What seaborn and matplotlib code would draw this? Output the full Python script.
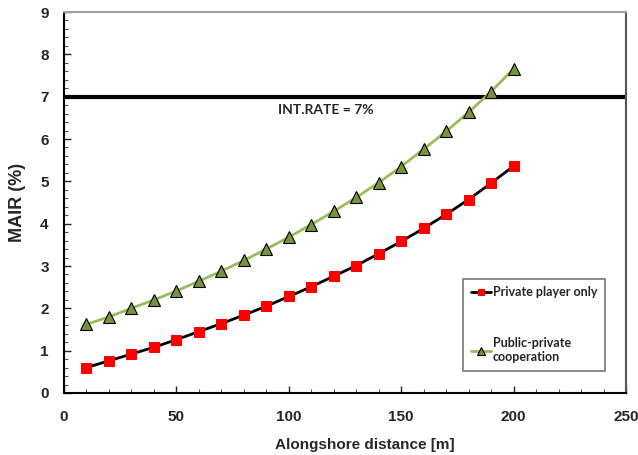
import matplotlib
matplotlib.use("Agg")
import matplotlib.pyplot as plt
import seaborn as sns
import pandas as pd
from matplotlib.ticker import MultipleLocator

distance = [10, 20, 30, 40, 50, 60, 70, 80, 90, 100, 110, 120, 130, 140, 150, 160, 170, 180, 190, 200]
private_only = [0.60, 0.76, 0.92, 1.08, 1.26, 1.45, 1.64, 1.84, 2.05, 2.28, 2.51, 2.76, 3.01, 3.29, 3.58, 3.89, 4.22, 4.57, 4.96, 5.36]
public_private = [1.62, 1.80, 2.00, 2.20, 2.41, 2.64, 2.88, 3.13, 3.40, 3.68, 3.98, 4.29, 4.62, 4.97, 5.35, 5.76, 6.18, 6.63, 7.12, 7.66]
int_rate = 7
series_names = ["Private player only", "Public-private\ncooperation"]

sns.set_style("white")
plt.rcParams['font.family'] = ['Liberation Sans', 'DejaVu Sans']

fig = plt.figure(figsize=(6.38, 4.55), dpi=100)
ax = fig.add_axes([64/638, 1-393/455, (626-64)/638, (393-12)/455])

df = pd.DataFrame({"x": distance * 2,
                   "y": private_only + public_private,
                   "s": [series_names[0]] * len(distance) + [series_names[1]] * len(distance)})

sns.lineplot(data=df[df.s == series_names[0]], x="x", y="y", ax=ax, color="black", lw=2,
             marker="s", markersize=6.5, markerfacecolor="#ff0000", markeredgecolor="#ff0000",
             label=series_names[0])
sns.lineplot(data=df[df.s == series_names[1]], x="x", y="y", ax=ax, color="#9bbb59", lw=2,
             marker="^", markersize=8, markerfacecolor="#77933c", markeredgecolor="black",
             markeredgewidth=0.8, label=series_names[1])

ax.axhline(int_rate, color="black", lw=3, zorder=1)
ax.text(116.5, 6.69, "INT.RATE = 7%", ha="center", va="center", fontsize=10, fontweight="bold",
        family=["Lato", "DejaVu Sans"])

ax.set_xlim(0, 250)
ax.set_ylim(0, 9)
ax.xaxis.set_major_locator(MultipleLocator(50))
ax.xaxis.set_minor_locator(MultipleLocator(10))
ax.yaxis.set_major_locator(MultipleLocator(1))
ax.yaxis.set_minor_locator(MultipleLocator(0.2))
ax.tick_params(which="major", direction="in", length=5, width=1, labelsize=11)
ax.tick_params(axis="x", which="major", pad=12)
ax.tick_params(axis="y", which="major", pad=11)
ax.tick_params(which="minor", direction="in", length=3, width=0.8, color="#555555")
ax.tick_params(axis="both", which="both", bottom=True, left=True)
for lab in ax.get_xticklabels() + ax.get_yticklabels():
    lab.set_fontweight("bold")

ax.set_xlabel("Alongshore distance [m]", fontsize=11, fontweight="bold")
ax.set_ylabel("MAIR (%)", fontsize=13, fontweight="bold")
ax.xaxis.set_label_coords((365-64)/562, -(438-393)/381)
ax.yaxis.set_label_coords(-(64-26)/562, 0.5)

ax.spines["left"].set_color("black")
ax.spines["bottom"].set_color("black")
ax.spines["top"].set_color("#a0a0a0")
ax.spines["right"].set_color("#555555")
for s in ax.spines.values():
    s.set_linewidth(1.5)
    s.set_visible(True)

leg = ax.legend(loc="upper left", bbox_to_anchor=((463-64)/562, (393-279)/381),
                borderaxespad=0, frameon=True, fancybox=False, edgecolor="#555555",
                prop={"family": ["Lato", "DejaVu Sans"], "weight": "bold", "size": 9},
                handlelength=1.6, handletextpad=0.2, labelspacing=3.1,
                borderpad=0.6, markerscale=0.75)
leg.get_frame().set_linewidth(1.2)

fig.savefig("out.png", dpi=100)
